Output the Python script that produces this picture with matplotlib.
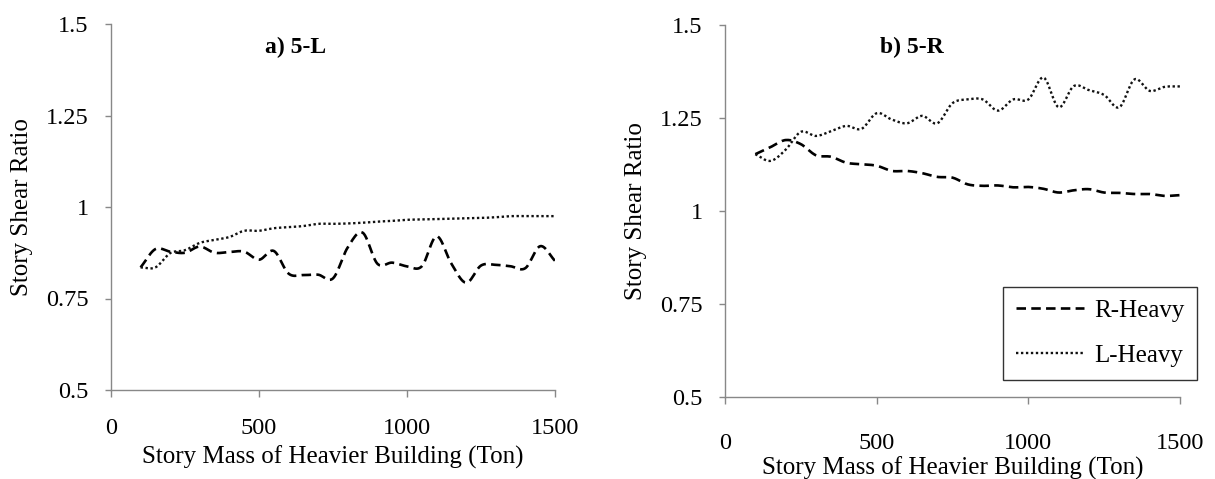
import numpy as np
import matplotlib
matplotlib.use("Agg")
import matplotlib.pyplot as plt

# ---- data ----
mass = [100, 150, 200, 250, 300, 350, 400, 450, 500, 550, 600, 650, 700, 750, 800,
        850, 900, 950, 1000, 1050, 1100, 1150, 1200, 1250, 1300, 1350, 1400, 1450, 1500]

a_r_heavy = [0.835, 0.885, 0.878, 0.875, 0.892, 0.875, 0.877, 0.878, 0.856, 0.880,
             0.818, 0.814, 0.815, 0.805, 0.890, 0.930, 0.845, 0.848, 0.838, 0.838,
             0.920, 0.845, 0.793, 0.840, 0.842, 0.838, 0.833, 0.893, 0.853]
a_l_heavy = [0.835, 0.835, 0.874, 0.882, 0.902, 0.910, 0.918, 0.935, 0.935, 0.942,
             0.945, 0.948, 0.954, 0.954, 0.955, 0.957, 0.960, 0.962, 0.965, 0.966,
             0.967, 0.968, 0.969, 0.970, 0.972, 0.975, 0.975, 0.975, 0.975]

b_r_heavy = [1.153, 1.172, 1.191, 1.180, 1.150, 1.146, 1.130, 1.126, 1.122, 1.108,
             1.108, 1.102, 1.092, 1.090, 1.072, 1.068, 1.069, 1.064, 1.065, 1.060,
             1.050, 1.056, 1.059, 1.050, 1.049, 1.046, 1.046, 1.041, 1.043]
b_l_heavy = [1.153, 1.135, 1.165, 1.213, 1.202, 1.215, 1.229, 1.221, 1.263, 1.246,
             1.236, 1.256, 1.236, 1.290, 1.300, 1.300, 1.270, 1.300, 1.300, 1.359,
             1.279, 1.336, 1.325, 1.312, 1.279, 1.354, 1.323, 1.334, 1.335]

x_ticks = [0, 500, 1000, 1500]
y_ticks = [0.5, 0.75, 1.0, 1.25, 1.5]
y_tick_labels = ["0.5", "0.75", "1", "1.25", "1.5"]
titles = ["a) 5-L", "b) 5-R"]
series_names = ["R-Heavy", "L-Heavy"]
x_label = "Story Mass of Heavier Building (Ton)"
y_label = "Story Shear Ratio"


def smooth(x, y, n=12):
    """Catmull-Rom rendering of a line through the given points (like Excel's smoothed line)."""
    x = np.asarray(x, float)
    y = np.asarray(y, float)
    px = np.concatenate([[2 * x[0] - x[1]], x, [2 * x[-1] - x[-2]]])
    py = np.concatenate([[2 * y[0] - y[1]], y, [2 * y[-1] - y[-2]]])
    xs, ys = [], []
    t = np.linspace(0, 1, n, endpoint=False)
    for i in range(1, len(px) - 2):
        p0, p1, p2, p3 = px[i - 1], px[i], px[i + 1], px[i + 2]
        q0, q1, q2, q3 = py[i - 1], py[i], py[i + 1], py[i + 2]
        bx = 0.5 * ((2 * p1) + (-p0 + p2) * t + (2 * p0 - 5 * p1 + 4 * p2 - p3) * t ** 2
                    + (-p0 + 3 * p1 - 3 * p2 + p3) * t ** 3)
        by = 0.5 * ((2 * q1) + (-q0 + q2) * t + (2 * q0 - 5 * q1 + 4 * q2 - q3) * t ** 2
                    + (-q0 + 3 * q1 - 3 * q2 + q3) * t ** 3)
        xs.extend(bx)
        ys.extend(by)
    xs.append(x[-1])
    ys.append(y[-1])
    return np.array(xs), np.array(ys)


plt.rcParams['font.family'] = ['Liberation Serif', 'DejaVu Serif']

W, H = 1215, 479
fig = plt.figure(figsize=(W / 100, H / 100), dpi=100)

axes_px = [(111, 555, 24, 390), (725, 1180, 25, 397.3)]
panels = [(a_r_heavy, a_l_heavy), (b_r_heavy, b_l_heavy)]
title_px = [(265, 47), (880, 47)]
xpad = [15, 21]
xlab_y = [457, 468]
ylab_x = [22, 636]

dash_style = (0, (3.6, 2.0))
dot_style = (0, (1.0, 1.1))

for k in range(2):
    l, r, t, b = axes_px[k]
    ax = fig.add_axes([l / W, 1 - b / H, (r - l) / W, (b - t) / H])
    rh, lh = panels[k]
    sx, sy = smooth(mass, rh)
    ax.plot(sx, sy, color='black', lw=1.9, linestyle=dash_style, label=series_names[0])
    sx, sy = smooth(mass, lh)
    ax.plot(sx, sy, color='#111111', lw=1.7, linestyle=dot_style, label=series_names[1])

    ax.set_xlim(0, 1500)
    ax.set_ylim(0.5, 1.5)
    ax.set_xticks(x_ticks)
    ax.set_yticks(y_ticks)
    ax.set_yticklabels(y_tick_labels)
    for s in ['top', 'right']:
        ax.spines[s].set_visible(False)
    for s in ['left', 'bottom']:
        ax.spines[s].set_color('#888888')
        ax.spines[s].set_linewidth(1.0)
    ax.tick_params(axis='x', direction='out', length=5, width=1.0, color='#888888',
                   labelsize=17.5, pad=xpad[k])
    ax.tick_params(axis='y', direction='out', length=4, width=1.0, color='#888888',
                   labelsize=17.5, pad=12)
    ax.patch.set_alpha(0)

    fig.text(title_px[k][0] / W, 1 - title_px[k][1] / H, titles[k], fontsize=17,
             fontweight='bold', ha='left', va='center')
    fig.text(((l + r) / 2) / W, 1 - xlab_y[k] / H, x_label, fontsize=18,
             ha='center', va='center')
    fig.text(ylab_x[k] / W, 1 - ((t + b) / 2) / H, y_label, fontsize=18,
             ha='center', va='center', rotation=90)

    if k == 1:
        leg = ax.legend(loc='upper left', bbox_to_anchor=(0.611, 0.296), fontsize=18,
                        frameon=True, fancybox=False, edgecolor='black',
                        handlelength=2.75, handletextpad=0.4, labelspacing=0.9,
                        borderpad=0.5, borderaxespad=0)
        leg.get_frame().set_linewidth(1.0)

fig.savefig('out.png', dpi=100)
